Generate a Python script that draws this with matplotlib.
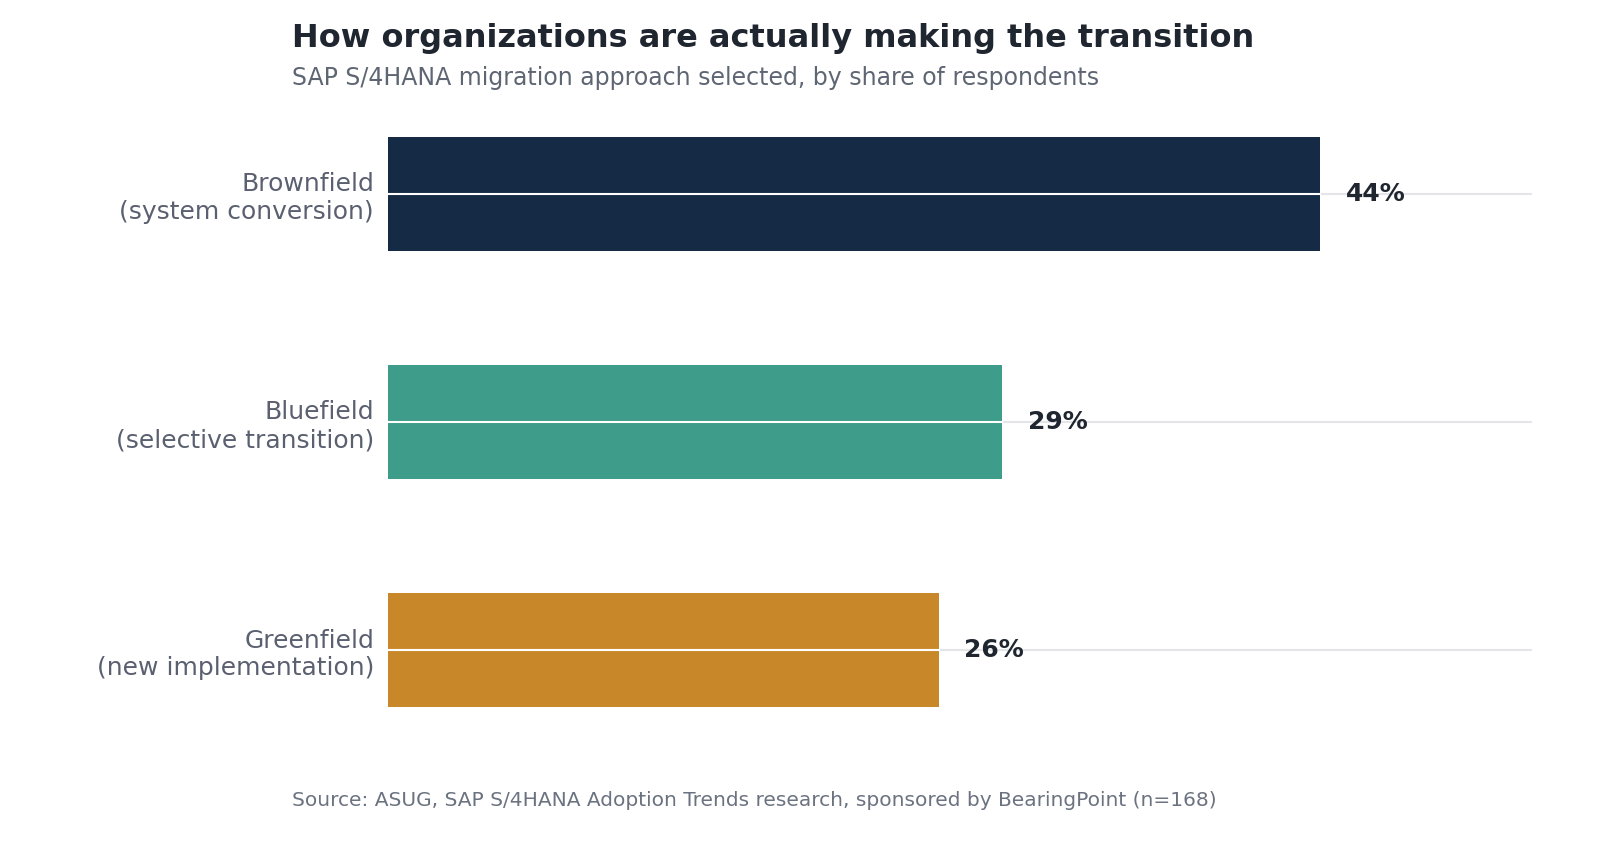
import matplotlib

matplotlib.use("Agg")
import matplotlib.pyplot as plt

plt.rcParams["font.family"] = ["DejaVu Sans"]

categories = ["Brownfield\n(system conversion)", "Bluefield\n(selective transition)", "Greenfield\n(new implementation)"]
shares = [44, 29, 26]
colors = ["#152a45", "#3e9c8a", "#c8882a"]

fig = plt.figure(figsize=(16, 8.52), dpi=100)
ax = fig.add_axes([388 / 1600, 1 - 787 / 852, (1532 - 388) / 1600, 730 / 852])

ypos = list(range(len(categories)))
for y in ypos:
    ax.axhline(y, color="#e3e5e8", linewidth=1.5, zorder=0)
ax.barh(ypos, shares, height=0.5, color=colors, zorder=2)
for y, v in zip(ypos, shares):
    ax.plot([0, v], [y, y], color="white", linewidth=1.5, zorder=3)
    ax.text(v + 1.2, y, f"{v}%", va="center", ha="left", fontsize=18,
            fontweight="bold", color="#1f2630")

ax.set_xlim(0, 54)
ax.set_ylim(2.6, -0.6)
ax.set_yticks(ypos)
ax.set_yticklabels(categories, fontsize=18, color="#5a6070")
ax.set_xticks([])
ax.tick_params(axis="y", length=0, pad=10)
for spine in ax.spines.values():
    spine.set_visible(False)

fig.text(292 / 1600, 1 - 38 / 852, "How organizations are actually making the transition",
         fontsize=23, fontweight="bold", color="#1f2630", va="center", ha="left")
fig.text(292 / 1600, 1 - 78 / 852, "SAP S/4HANA migration approach selected, by share of respondents",
         fontsize=17, color="#5f6673", va="center", ha="left")
fig.text(292 / 1600, 1 - 801 / 852,
         "Source: ASUG, SAP S/4HANA Adoption Trends research, sponsored by BearingPoint (n=168)",
         fontsize=14.5, color="#6b7280", va="center", ha="left")

fig.savefig("out.png", dpi=100, facecolor="white")
